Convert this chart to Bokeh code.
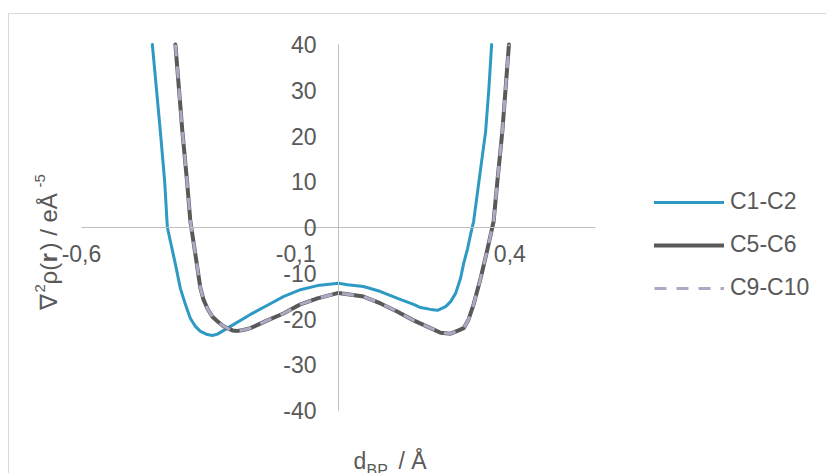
import math

from bokeh.plotting import figure
from bokeh.models import (LinearAxis, FixedTicker, CustomJSTickFormatter,
                          Legend, LegendItem, Label)
from bokeh.embed import file_html
from bokeh.resources import INLINE

# Laplacian of the electron density along the bond path
# d_BP in Å, ∇²ρ(r) in eÅ^-5
c1c2_d = [-0.4346, -0.4159, -0.4058, -0.3995, -0.3925, -0.3808, -0.3692,
          -0.3575, -0.3458, -0.3341, -0.3224, -0.3061, -0.2944, -0.2827, -0.2593,
          -0.2056, -0.1659, -0.1285, -0.0888, -0.0491, 0.0, 0.0210, 0.0584,
          0.0981, 0.1379, 0.1752, 0.1916, 0.2150, 0.2313, 0.2500, 0.2617,
          0.2734, 0.2850, 0.2921, 0.3014, 0.3084, 0.3154, 0.3278, 0.3435,
          0.3512, 0.3575]
c1c2_lap = [40.0, 21.0, 10.0, 0.0, -3.0, -8.0, -13.3,
            -16.8, -19.9, -21.6, -22.7, -23.4, -23.6, -23.3, -22.0,
            -19.0, -17.0, -15.1, -13.6, -12.7, -12.2, -12.5, -12.9,
            -14.0, -15.5, -16.8, -17.5, -17.9, -18.1, -17.3, -16.2,
            -14.4, -11.1, -7.9, -4.6, -1.5, 1.3, 10.0, 21.0,
            30.5, 40.0]

c5c6_d = [-0.3808, -0.3645, -0.3535, -0.3458, -0.3341, -0.3224, -0.3154,
          -0.3061, -0.2944, -0.2827, -0.2710, -0.2593, -0.2477, -0.2360, -0.2220,
          -0.2056, -0.1659, -0.1285, -0.0888, -0.0491, 0.0, 0.0584, 0.0981,
          0.1379, 0.1752, 0.2150, 0.2383, 0.2617, 0.2804, 0.2921, 0.3037,
          0.3154, 0.3318, 0.3481, 0.3621, 0.3708, 0.3825, 0.3902, 0.3979]
c5c6_lap = [40.0, 21.0, 10.0, 1.3, -5.9, -13.3, -15.7,
            -17.7, -19.5, -20.5, -21.4, -22.0, -22.5, -22.6, -22.4,
            -22.0, -20.3, -18.8, -16.8, -15.5, -14.3, -15.1, -16.6,
            -18.4, -20.3, -22.0, -23.0, -23.2, -22.5, -22.0, -20.1,
            -16.8, -11.1, -4.6, 1.3, 10.0, 21.0, 30.5, 40.0]

c9c10_d = [-0.3808, -0.3645, -0.3535, -0.3458, -0.3341, -0.3224, -0.3154,
           -0.3061, -0.2944, -0.2827, -0.2710, -0.2593, -0.2477, -0.2360, -0.2220,
           -0.2056, -0.1659, -0.1285, -0.0888, -0.0491, 0.0, 0.0584, 0.0981,
           0.1379, 0.1752, 0.2150, 0.2383, 0.2617, 0.2804, 0.2921, 0.3037,
           0.3154, 0.3318, 0.3481, 0.3621, 0.3708, 0.3825, 0.3902, 0.3979]
c9c10_lap = [40.0, 21.0, 10.0, 1.3, -5.9, -13.3, -15.7,
             -17.7, -19.5, -20.5, -21.4, -22.0, -22.5, -22.6, -22.4,
             -22.0, -20.3, -18.8, -16.8, -15.5, -14.3, -15.1, -16.6,
             -18.4, -20.3, -22.0, -23.0, -23.2, -22.5, -22.0, -20.1,
             -16.8, -11.1, -4.6, 1.3, 10.0, 21.0, 30.5, 40.0]

series_names = ["C1-C2", "C5-C6", "C9-C10"]
x_ticks = [-0.6, -0.1, 0.4]
y_ticks = [-40, -30, -20, -10, 0, 10, 20, 30, 40]

TEXT = "#595959"
FONT = "Liberation Sans"
AXIS = "#BFBFBF"

# page geometry (px)
PAGE_W, PAGE_H = 826, 473
OFF_X, OFF_Y = 8, 13                  # chart box inset within the page
PLOT_L, PLOT_R, PLOT_T, PLOT_B = 80, 594, 43, 409   # where the axes' extent lies
X0, X1, Y0, Y1 = -0.6, 0.6, -40, 40


def to_x(px):
    return X0 + (px - PLOT_L) * (X1 - X0) / (PLOT_R - PLOT_L)


def to_y(py):
    return Y1 - (py - PLOT_T) * (Y1 - Y0) / (PLOT_B - PLOT_T)


# the frame covers the whole chart box so the legend and titles are not clipped;
# the axes are bounded to the plotting extent
p = figure(width=PAGE_W - OFF_X, height=PAGE_H - OFF_Y,
           x_range=(to_x(OFF_X), to_x(PAGE_W)),
           y_range=(to_y(PAGE_H), to_y(OFF_Y)),
           output_backend="svg", toolbar_location=None,
           x_axis_location=None, y_axis_location=None,
           min_border=0, outline_line_color=None,
           background_fill_color="white", border_fill_color="white")
p.margin = (OFF_Y, 0, 0, OFF_X)
p.styles = {"border-left": "1px solid #D9D9D9", "border-top": "1px solid #D9D9D9"}
p.grid.visible = False

# axes crossing at the origin
xaxis = LinearAxis(fixed_location=0, bounds=(X0, X1), ticker=FixedTicker(ticks=x_ticks),
                   formatter=CustomJSTickFormatter(code="return tick.toFixed(1).replace('.', ',')"),
                   axis_line_color=AXIS, axis_line_width=1,
                   major_tick_line_color=None, minor_tick_line_color=None,
                   major_tick_out=0, major_tick_in=0, minor_tick_out=0, minor_tick_in=0,
                   major_label_standoff=17, major_label_text_font_size="23px",
                   major_label_text_color=TEXT, major_label_text_font=FONT)
p.add_layout(xaxis, "below")

yaxis = LinearAxis(fixed_location=0, bounds=(Y0, Y1), ticker=FixedTicker(ticks=y_ticks),
                   formatter=CustomJSTickFormatter(code="return tick.toFixed(0)"),
                   axis_line_color=AXIS, axis_line_width=1,
                   major_tick_line_color=None, minor_tick_line_color=None,
                   major_tick_out=0, major_tick_in=0, minor_tick_out=0, minor_tick_in=0,
                   major_label_standoff=22, major_label_text_font_size="23px",
                   major_label_text_color=TEXT, major_label_text_font=FONT)
p.add_layout(yaxis, "left")

r1 = p.line(c1c2_d, c1c2_lap, line_color="#2E9AC4", line_width=3,
            line_join="round", line_cap="round")
r2 = p.line(c5c6_d, c5c6_lap, line_color="#595959", line_width=4,
            line_join="round", line_cap="round")
r3 = p.line(c9c10_d, c9c10_lap, line_color="#ADA9C4", line_width=3,
            line_dash="12 10", line_join="round")

legend = Legend(items=[LegendItem(label=n, renderers=[r])
                       for n, r in zip(series_names, [r1, r2, r3])],
                location=(653 - OFF_X, PAGE_H - 300), orientation="vertical",
                glyph_width=70, glyph_height=20, label_height=20,
                label_standoff=6, spacing=16, padding=0, margin=0,
                border_line_color=None, background_fill_alpha=0,
                label_text_font_size="23px", label_text_color=TEXT,
                label_text_font=FONT)
p.add_layout(legend)


# axis titles
def title_piece(px, py, text, size, angle=0.0, style="normal"):
    p.add_layout(Label(x=to_x(px), y=to_y(py), text=text, angle=angle,
                       text_align="left", text_baseline="alphabetic",
                       text_font=FONT, text_font_size=size,
                       text_font_style=style, text_color=TEXT))


title_piece(352, 459, "d", "23px")
title_piece(365, 469, "BP", "16px")
title_piece(397, 459, "/ Å", "23px")

up = math.pi / 2
title_piece(47, 308, "∇", "24px", up)
title_piece(38, 291, "2", "15px", up)
title_piece(47, 283, "ρ(", "24px", up)
title_piece(47, 261, "r", "24px", up, "bold")
title_piece(47, 249, ") / eÅ", "24px", up)
title_piece(38, 186, "-5", "15px", up)

open("out.html", "w").write(file_html(p, INLINE))
